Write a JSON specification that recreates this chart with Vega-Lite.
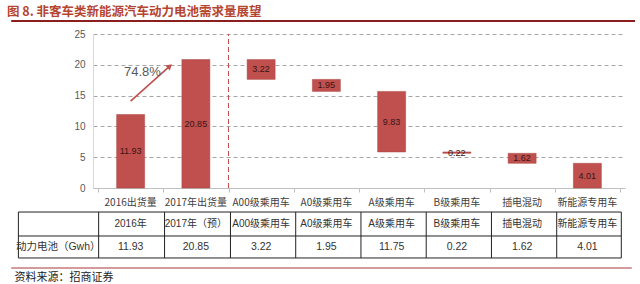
{
  "$schema": "https://vega.github.io/schema/vega-lite/v6.json",
  "width": 532,
  "height": 154,
  "autosize": {"type": "none"},
  "padding": {"left": 93, "top": 34, "right": 15, "bottom": 96},
  "background": "white",
  "config": {
    "font": "Liberation Sans, Noto Sans CJK SC",
    "view": {"stroke": null},
    "axisY": {"labelOverlap": false, "tickCount": 6, "gridDash": [4, 3], "gridColor": "#a6a6a6"}
  },
  "title": {
    "text": "图 8. 非客车类新能源汽车动力电池需求量展望",
    "anchor": "start",
    "frame": "group",
    "dx": -86,
    "offset": 2,
    "fontSize": 12.5,
    "fontWeight": "bold",
    "font": "Noto Sans CJK SC",
    "color": "#B5452F"
  },
  "datasets": {
    "bars": [
      {"i": 0, "cat": "2016出货量", "lo": 0, "hi": 11.93, "v": "11.93"},
      {"i": 1, "cat": "2017年出货量", "lo": 0, "hi": 20.85, "v": "20.85"},
      {"i": 2, "cat": "A00级乘用车", "lo": 17.63, "hi": 20.85, "v": "3.22"},
      {"i": 3, "cat": "A0级乘用车", "lo": 15.68, "hi": 17.63, "v": "1.95"},
      {"i": 4, "cat": "A级乘用车", "lo": 5.85, "hi": 15.68, "v": "9.83"},
      {"i": 5, "cat": "B级乘用车", "lo": 5.63, "hi": 5.85, "v": "0.22"},
      {"i": 6, "cat": "插电混动", "lo": 4.01, "hi": 5.63, "v": "1.62"},
      {"i": 7, "cat": "新能源专用车", "lo": 0, "hi": 4.01, "v": "4.01"}
    ],
    "table": [
      {"c": -1.11, "r": "h", "t": ""},
      {"c": 0, "r": "h", "t": "2016年"},
      {"c": 1, "r": "h", "t": "2017年（预）"},
      {"c": 2, "r": "h", "t": "A00级乘用车"},
      {"c": 3, "r": "h", "t": "A0级乘用车"},
      {"c": 4, "r": "h", "t": "A级乘用车"},
      {"c": 5, "r": "h", "t": "B级乘用车"},
      {"c": 6, "r": "h", "t": "插电混动"},
      {"c": 7, "r": "h", "t": "新能源专用车"},
      {"c": -1.11, "r": "d", "t": "动力电池（Gwh）"},
      {"c": 0, "r": "d", "t": "11.93"},
      {"c": 1, "r": "d", "t": "20.85"},
      {"c": 2, "r": "d", "t": "3.22"},
      {"c": 3, "r": "d", "t": "1.95"},
      {"c": 4, "r": "d", "t": "11.75"},
      {"c": 5, "r": "d", "t": "0.22"},
      {"c": 6, "r": "d", "t": "1.62"},
      {"c": 7, "r": "d", "t": "4.01"}
    ],
    "hlines": [{"y": -3.9}, {"y": -7.79}, {"y": -11.36}],
    "vlines": [{"x": -1.72}, {"x": -0.49}, {"x": 0.52}, {"x": 1.53}, {"x": 2.53}, {"x": 3.53}, {"x": 4.53}, {"x": 5.53}, {"x": 6.53}, {"x": 7.52}],
    "arrow": [{"x": 0.0, "y": 14.1, "x2": 0.6, "y2": 19.8, "pct": "74.8%", "lx": 0.18, "ly": 18.8}],
    "topline": [{"y": 27.1, "x": -1.83, "x2": 7.73}],
    "bottomline": [{"y": -12.99, "x": -1.83, "x2": 7.68}],
    "one": [{}]
  },
  "layer": [
    {
      "data": {"name": "bars"},
      "mark": {"type": "bar", "width": 28, "color": "#C0504D", "stroke": "#A94442", "strokeWidth": 0.5},
      "encoding": {
        "x": {
          "field": "i", "type": "quantitative",
          "scale": {"domain": [-0.5, 7.5], "nice": false, "zero": false},
          "axis": {
            "values": [-0.5, 0.5, 1.5, 2.5, 3.5, 4.5, 5.5, 6.5, 7.5],
            "labels": false, "title": null, "grid": false,
            "domainColor": "#bfbfbf", "tickColor": "#bfbfbf", "tickSize": 4
          }
        },
        "y": {
          "field": "lo", "type": "quantitative",
          "scale": {"domain": [0, 25], "nice": false},
          "axis": {
            "values": [0, 5, 10, 15, 20, 25],
            "labelOverlap": false,
            "title": null, "grid": true, "gridDash": [4, 3], "gridColor": "#a6a6a6",
            "ticks": false, "domainColor": "#d9d9d9", "labelColor": "#595959",
            "labelFontSize": 10, "labelPadding": 8
          }
        },
        "y2": {"field": "hi"}
      }
    },
    {
      "data": {"name": "bars"},
      "transform": [
        {"fold": ["lo", "hi"], "as": ["k", "val"]},
        {"aggregate": [{"op": "mean", "field": "val", "as": "mid"}], "groupby": ["i", "v"]}
      ],
      "mark": {"type": "text", "fontSize": 9, "color": "#3a1414"},
      "encoding": {
        "x": {"field": "i", "type": "quantitative"},
        "y": {"field": "mid", "type": "quantitative"},
        "text": {"field": "v"}
      }
    },
    {
      "data": {"name": "bars"},
      "mark": {"type": "text", "fontSize": 10, "color": "#404040", "font": "Noto Sans CJK SC"},
      "encoding": {
        "x": {"field": "i", "type": "quantitative"},
        "y": {"datum": -2.45},
        "text": {"field": "cat"}
      }
    },
    {
      "data": {"name": "one"},
      "mark": {"type": "rule", "color": "#C0504D", "strokeDash": [5, 3], "strokeWidth": 1},
      "encoding": {"x": {"datum": 1.5}, "y": {"datum": 0}, "y2": {"datum": 25}}
    },
    {
      "data": {"name": "arrow"},
      "mark": {"type": "rule", "color": "#C0504D", "strokeWidth": 1.6},
      "encoding": {
        "x": {"field": "x", "type": "quantitative"},
        "y": {"field": "y", "type": "quantitative"},
        "x2": {"field": "x2"},
        "y2": {"field": "y2"}
      }
    },
    {
      "data": {"name": "arrow"},
      "mark": {"type": "point", "shape": "triangle-up", "filled": true, "color": "#C0504D", "size": 45, "angle": 49, "opacity": 1},
      "encoding": {
        "x": {"field": "x2", "type": "quantitative"},
        "y": {"field": "y2", "type": "quantitative"}
      }
    },
    {
      "data": {"name": "arrow"},
      "mark": {"type": "text", "fontSize": 13, "color": "#595959"},
      "encoding": {
        "x": {"field": "lx", "type": "quantitative"},
        "y": {"field": "ly", "type": "quantitative"},
        "text": {"field": "pct"}
      }
    },
    {
      "data": {"name": "hlines"},
      "mark": {"type": "rule", "color": "#222222", "strokeWidth": 1},
      "encoding": {
        "y": {"field": "y", "type": "quantitative"},
        "x": {"datum": -1.72},
        "x2": {"datum": 7.52}
      }
    },
    {
      "data": {"name": "vlines"},
      "mark": {"type": "rule", "color": "#222222", "strokeWidth": 1},
      "encoding": {
        "x": {"field": "x", "type": "quantitative"},
        "y": {"datum": -3.9},
        "y2": {"datum": -11.36}
      }
    },
    {
      "data": {"name": "table"},
      "transform": [{"filter": "datum.r == 'h'"}],
      "mark": {"type": "text", "fontSize": 10, "color": "#333333", "font": "Liberation Sans, Noto Sans CJK SC"},
      "encoding": {
        "x": {"field": "c", "type": "quantitative"},
        "y": {"datum": -5.85},
        "text": {"field": "t"}
      }
    },
    {
      "data": {"name": "table"},
      "transform": [{"filter": "datum.r == 'd'"}],
      "mark": {"type": "text", "fontSize": 10.5, "color": "#333333", "font": "Liberation Sans, Noto Sans CJK SC"},
      "encoding": {
        "x": {"field": "c", "type": "quantitative"},
        "y": {"datum": -9.6},
        "text": {"field": "t"}
      }
    },
    {
      "data": {"name": "topline"},
      "mark": {"type": "rule", "color": "#8B1F1F", "strokeWidth": 2},
      "encoding": {
        "y": {"field": "y", "type": "quantitative"},
        "x": {"field": "x", "type": "quantitative"},
        "x2": {"field": "x2"}
      }
    },
    {
      "data": {"name": "bottomline"},
      "mark": {"type": "rule", "color": "#C47A7A", "strokeWidth": 1.5},
      "encoding": {
        "y": {"field": "y", "type": "quantitative"},
        "x": {"field": "x", "type": "quantitative"},
        "x2": {"field": "x2"}
      }
    },
    {
      "data": {"name": "one"},
      "mark": {"type": "text", "text": "资料来源：招商证券", "fontSize": 11, "color": "#222222", "align": "left", "font": "Noto Sans CJK SC"},
      "encoding": {"x": {"datum": -1.78}, "y": {"datum": -14.6}}
    }
  ]
}
